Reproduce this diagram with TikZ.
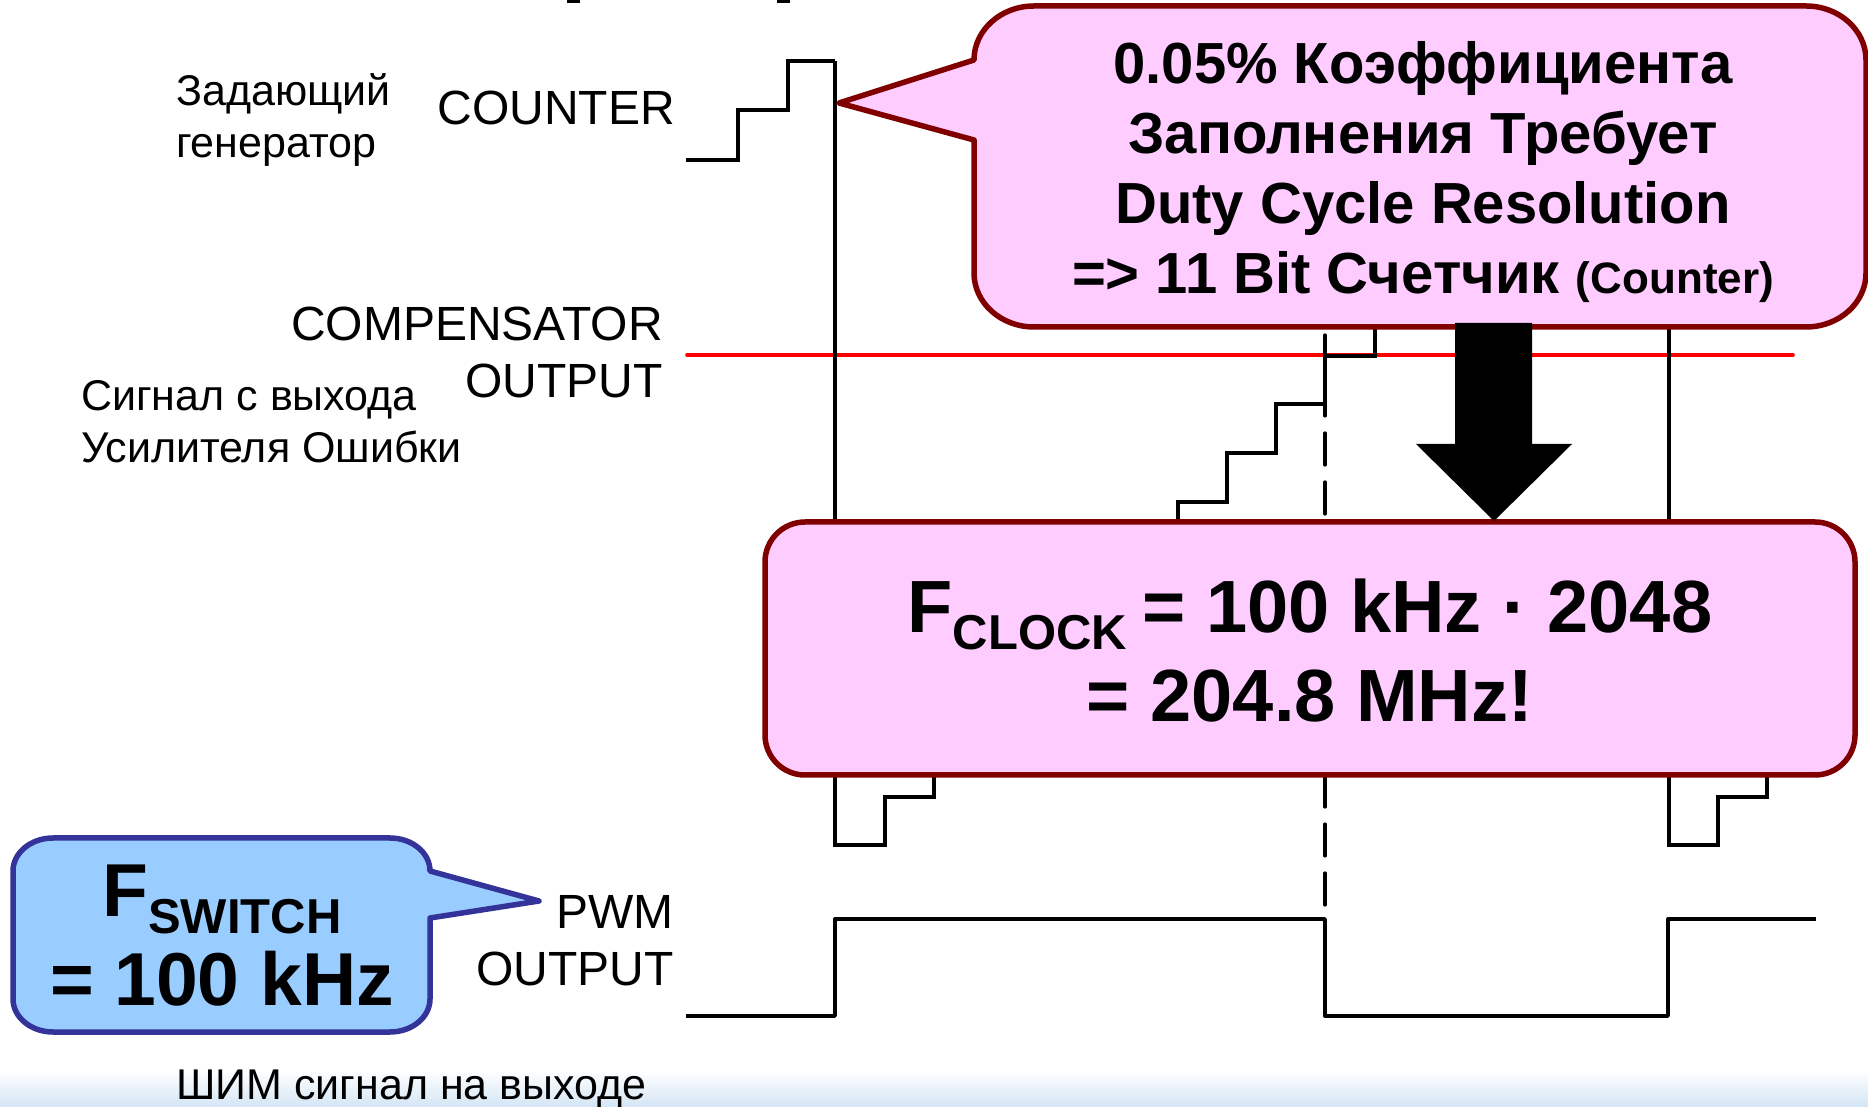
\documentclass[tikz,border=0pt]{standalone}
\usepackage{fontspec}
\setmainfont{Liberation Sans}
\usepackage{tikz}
\definecolor{pinkfill}{HTML}{FFCCFF}
\definecolor{pinkline}{HTML}{800000}
\definecolor{bluefill}{HTML}{99CCFF}
\definecolor{blueline}{HTML}{333399}
\definecolor{fadeblue}{HTML}{D5E6F5}
\tikzset{
	wave/.style={line width=3.4pt,line join=miter},
	edge/.style={line width=3.2pt},
	label/.style={font=\fontsize{48}{57}\selectfont,align=right,anchor=east,inner sep=0pt},
	note/.style={font=\fontsize{43}{52}\selectfont,align=left,anchor=west,inner sep=0pt},
	callout/.style={line width=5.5pt,line join=round},
	bold/.style={align=center,inner sep=0pt},
	pinkcorner/.style={x radius=60pt,y radius=54pt},
	bluecorner/.style={x radius=40pt,y radius=33pt}
}
\newcommand{\drawstairs}[2]{
	\draw[wave] #1 #2;
}
\newcommand{\lowtext}[1]{\raisebox{-17pt}{\fontsize{49}{49}\selectfont #1}}
\begin{document}
\begin{tikzpicture}[x=1pt,y=1pt]
	\useasboundingbox (0,0) rectangle (1868,1106);
	\shade[bottom color=fadeblue,top color=white] (0,0) rectangle (1868,36);
	\fill (567,1106) rectangle (580,1103);
	\fill (777,1106) rectangle (790,1103);

	\draw (176,986) node [note] (gen) {Задающий\\генератор};
	\draw (81,684) node [note] (err) {Сигнал с выхода\\Усилителя Ошибки};
	\draw (176,17) node [note] (pwmnote) {ШИМ сигнал на выходе};
	\draw (675,998) node [label] (counter) {COUNTER};
	\draw (663,754) node [label] (comp) {COMPENSATOR\\OUTPUT};
	\draw (674,165) node [label] (pwm) {PWM\\OUTPUT};

	\draw[red,line width=3.6pt,line cap=round] (687,751) -- (1793,751);
	\draw[edge] (835,1045) -- (835,584);
	\draw[edge] (1669,779) -- (1669,584);
	\draw[edge,dash pattern=on 32pt off 17pt,line cap=round] (1325,771) -- (1325,584);
	\draw[edge,dash pattern=on 32pt off 17pt,line cap=round] (1325,331) -- (1325,200);

	\drawstairs{(686,946)}{-| (738,996) -| (788,1045) -| (835,1045)}
	\drawstairs{(1178,584)}{|- (1227,604) |- (1276,653) |- (1325,702) |- (1375,750) -- (1375,777)}
	\drawstairs{(835,331)}{|- (885,261) |- (934,309) -- (934,331)}
	\drawstairs{(1669,331)}{|- (1718,261) |- (1767,309) -- (1767,331)}
	\draw[wave,line join=round] (686,90) -| (835,187) -| (1325,90) -| (1668,187) -- (1816,187);

	\draw[callout,draw=blueline,fill=bluefill] (430,188) -- (430,107) arc[start angle=0,end angle=-90,bluecorner] -- (53,74) arc[start angle=270,end angle=180,bluecorner]
		-- (13,235) arc[start angle=180,end angle=90,bluecorner] -- (390,268) arc[start angle=90,end angle=0,bluecorner] -- (539,205) -- cycle;
	\draw[callout,draw=pinkline,fill=pinkfill] (974,966) -- (974,833) arc[start angle=180,end angle=270,pinkcorner] -- (1806,779) arc[start angle=270,end angle=360,pinkcorner]
		-- (1866,1046) arc[start angle=0,end angle=90,pinkcorner] -- (1034,1100) arc[start angle=90,end angle=180,pinkcorner] -- (839,1003) -- cycle;
	\draw[callout,draw=pinkline,fill=pinkfill,rounded corners=40pt] (765,331) rectangle (1855,584);

	\fill (1455,783) -- (1532,783) -- (1532,662) -- (1572,662) -- (1494,585) -- (1416,662) -- (1455,662) -- cycle;

	\draw (1423,934) node [bold,font=\fontsize{58}{70}\selectfont\bfseries] (need) {0.05\% Коэффициента\\Заполнения Требует\\Duty Cycle Resolution\\=> 11 Bit Счетчик {\fontsize{44}{70}\selectfont(Counter)}};
	\draw (1310,455) node [bold,font=\fontsize{74}{89}\selectfont\bfseries] (clock) {F\lowtext{CLOCK}\hspace{-5pt} = 100 kHz · 2048\\= 204.8 MHz!};
	\draw (222,170) node [bold,font=\fontsize{75}{89}\selectfont\bfseries] (switch) {F\lowtext{SWITCH}\\= 100 kHz};
\end{tikzpicture}
\end{document}
